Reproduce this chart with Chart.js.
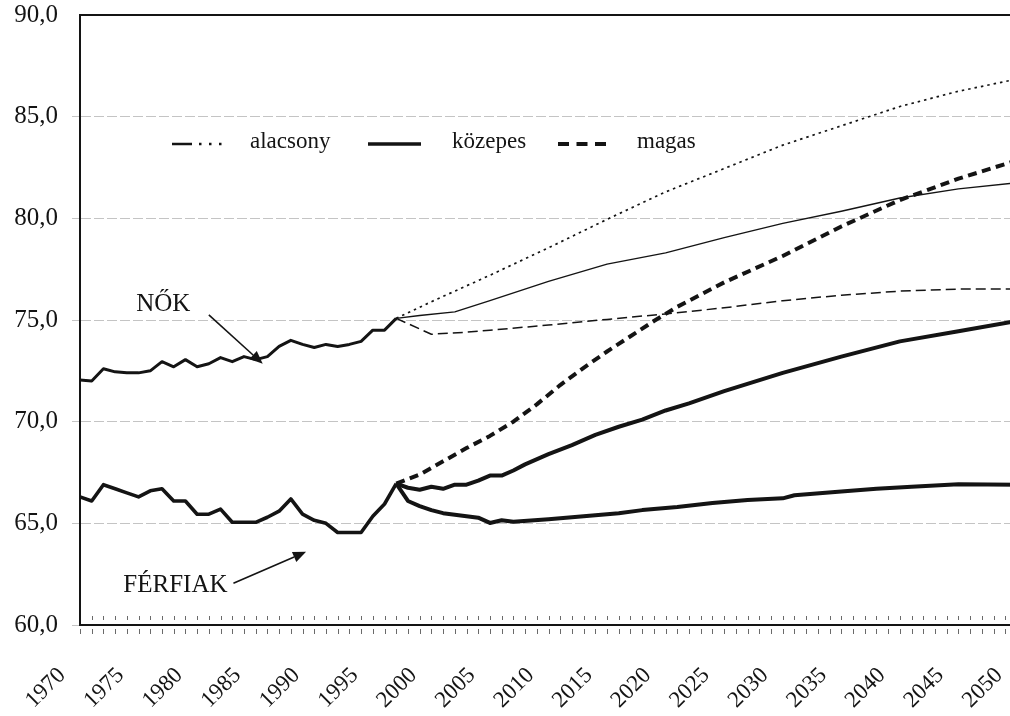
<!DOCTYPE html>
<html>
<head>
<meta charset="utf-8">
<script src="https://cdn.jsdelivr.net/npm/chart.js@4.4.1/dist/chart.umd.min.js"></script>
<style>
  html, body { margin: 0; padding: 0; background: #ffffff; overflow: hidden; }
  #wrap { position: relative; width: 1020px; height: 716px; }
</style>
</head>
<body>
<div id="wrap"><canvas id="c" width="1020" height="716"></canvas></div>
<script>
// ---------- DATA ----------
const histYears = [1970,1971,1972,1973,1974,1975,1976,1977,1978,1979,1980,1981,1982,1983,1984,1985,1986,1987,1988,1989,1990,1991,1992,1993,1994,1995,1996,1997];
const womenHist = [72.05,72.0,72.6,72.45,72.4,72.4,72.5,72.95,72.7,73.05,72.7,72.85,73.15,72.95,73.2,73.05,73.2,73.7,74.0,73.8,73.65,73.8,73.7,73.8,73.95,74.5,74.5,75.08];
const menHist   = [66.3,66.1,66.9,66.7,66.5,66.3,66.6,66.7,66.1,66.1,65.45,65.45,65.7,65.05,65.05,65.05,65.3,65.6,66.2,65.45,65.15,65.0,64.55,64.55,64.55,65.35,65.95,66.95];

// Women projections (NŐK)
const womenLowYears  = [1997,2000,2005,2010,2015,2020,2025,2030,2035,2040,2045,2050];
const womenLow       = [75.08,75.9,77.2,78.55,79.95,81.3,82.45,83.6,84.55,85.5,86.25,86.85];
const womenMidYears  = [1997,1999,2002,2005,2010,2015,2020,2025,2030,2035,2040,2045,2050];
const womenMid       = [75.08,75.22,75.4,75.95,76.9,77.75,78.3,79.05,79.75,80.35,81.0,81.45,81.75];
const womenHighYears = [1997,2000,2003,2005,2010,2015,2020,2025,2030,2035,2040,2045,2050];
const womenHigh      = [75.08,74.3,74.4,74.5,74.75,75.03,75.3,75.6,75.95,76.22,76.42,76.52,76.52];

// Men projections (FÉRFIAK)
const menLowYears  = [1997,1998,1999,2000,2001,2003,2004,2005,2006,2007,2010,2013,2016,2018,2021,2024,2027,2030,2031,2035,2038,2041,2045,2050];
const menLow       = [66.95,66.1,65.85,65.65,65.5,65.35,65.28,65.02,65.15,65.08,65.2,65.35,65.5,65.65,65.8,66.0,66.15,66.23,66.38,66.57,66.7,66.8,66.92,66.9];
const menMidYears  = [1997,1998,1999,2000,2001,2002,2003,2004,2005,2006,2007,2008,2010,2012,2014,2016,2018,2020,2022,2025,2030,2035,2040,2045,2050];
const menMid       = [66.95,66.75,66.65,66.8,66.7,66.9,66.9,67.1,67.35,67.35,67.6,67.9,68.4,68.85,69.35,69.75,70.1,70.55,70.9,71.5,72.4,73.2,73.95,74.45,74.95];
const menHighYears = [1997,1999,2001,2003,2005,2007,2009,2011,2013,2015,2017,2019,2021,2023,2025,2030,2035,2040,2045,2050];
const menHigh      = [66.95,67.4,68.05,68.7,69.3,70.0,70.85,71.8,72.65,73.45,74.2,74.95,75.65,76.25,76.85,78.15,79.6,80.9,81.95,82.85];

// Axis ticks and labels
const xTickYears  = [1970,1975,1980,1985,1990,1995,2000,2005,2010,2015,2020,2025,2030,2035,2040,2045,2050];
const yTickValues = [60,65,70,75,80,85,90];
const legendLabels = ['alacsony','közepes','magas'];
const groupLabels  = ['NŐK','FÉRFIAK'];

// ---------- STYLE ----------
const FONT = "'Liberation Serif', 'DejaVu Serif', serif";
const INK = '#141414';
const GRID = '#c4c4c4';

function pts(xs, ys) { return xs.map((x, i) => ({ x: x, y: ys[i] })); }
function line(data, width, dash) {
  return { data: data, borderColor: INK, backgroundColor: INK, borderWidth: width,
           borderDash: dash || [], pointRadius: 0, fill: false, tension: 0,
           borderJoinStyle: 'round', borderCapStyle: 'butt' };
}

const datasets = [
  line(pts(histYears, womenHist), 3),
  line(pts(histYears, menHist), 3.6),
  line(pts(womenLowYears, womenLow), 1.7, [2.5, 4]),
  line(pts(womenMidYears, womenMid), 1.4),
  line(pts(womenHighYears, womenHigh), 1.5, [10, 5]),
  line(pts(menLowYears, menLow), 4),
  line(pts(menMidYears, menMid), 4),
  line(pts(menHighYears, menHigh), 4, [9, 5.5])
];

// legend sample styles (layout relative to the chart area)
const legendStyle = [
  { dash: [20, 7, 2.5, 7.5, 2.5, 7.5, 2.5, 300], width: 2.5, x0: 92,  x1: 143, tx: 170 },
  { dash: [],                                   width: 3.5, x0: 288, x1: 341, tx: 372 },
  { dash: [11, 7.5],                             width: 4,   x0: 478, x1: 528, tx: 557 }
];
// annotation anchors in data coordinates
const annot = [
  { text: groupLabels[0], x: 1974.8, y: 75.45, from: [1981.0, 75.25], to: [1985.6, 72.85] },
  { text: groupLabels[1], x: 1973.7, y: 61.6,  from: [1983.1, 62.05], to: [1989.3, 63.6] }
];

function arrow(ctx, x1, y1, x2, y2, headLen, headW, lw) {
  const a = Math.atan2(y2 - y1, x2 - x1);
  const bx = x2 - headLen * Math.cos(a), by = y2 - headLen * Math.sin(a);
  ctx.lineWidth = lw;
  ctx.beginPath(); ctx.moveTo(x1, y1); ctx.lineTo(bx, by); ctx.stroke();
  ctx.beginPath(); ctx.moveTo(x2, y2);
  ctx.lineTo(bx + headW / 2 * Math.sin(a), by - headW / 2 * Math.cos(a));
  ctx.lineTo(bx - headW / 2 * Math.sin(a), by + headW / 2 * Math.cos(a));
  ctx.closePath(); ctx.fill();
}

const decor = {
  id: 'decor',
  afterDraw(chart) {
    const { ctx, chartArea: a, scales: { x, y } } = chart;
    ctx.save();
    // top frame line
    ctx.strokeStyle = INK; ctx.lineWidth = 2;
    ctx.beginPath(); ctx.moveTo(a.left - 1, a.top); ctx.lineTo(a.right, a.top); ctx.stroke();
    // yearly minor ticks above and below the axis
    ctx.strokeStyle = '#6a6a6a'; ctx.lineWidth = 1;
    for (let yr = x.min; yr <= x.max; yr++) {
      const px = Math.round(x.getPixelForValue(yr)) + 0.5;
      ctx.beginPath();
      if (yr > x.min) { ctx.moveTo(px, a.bottom - 9); ctx.lineTo(px, a.bottom - 5); }
      ctx.moveTo(px, a.bottom + 4); ctx.lineTo(px, a.bottom + 9);
      ctx.stroke();
    }
    // legend
    ctx.fillStyle = INK; ctx.strokeStyle = INK;
    ctx.font = '23px ' + FONT; ctx.textBaseline = 'alphabetic'; ctx.textAlign = 'left';
    const ly = a.top + 129;
    legendLabels.forEach((lab, i) => {
      const s = legendStyle[i];
      ctx.save();
      ctx.lineWidth = s.width; ctx.setLineDash(s.dash); ctx.lineCap = 'butt';
      ctx.beginPath(); ctx.moveTo(a.left + s.x0, ly); ctx.lineTo(a.left + s.x1, ly); ctx.stroke();
      ctx.restore();
      ctx.fillText(lab, a.left + s.tx, a.top + 133);
    });
    // group annotations with arrows
    ctx.font = '25px ' + FONT;
    annot.forEach(n => {
      ctx.fillText(n.text, x.getPixelForValue(n.x), y.getPixelForValue(n.y));
      arrow(ctx, x.getPixelForValue(n.from[0]), y.getPixelForValue(n.from[1]),
                 x.getPixelForValue(n.to[0]), y.getPixelForValue(n.to[1]), 13, 11, 1.6);
    });
    ctx.restore();
  }
};

new Chart(document.getElementById('c'), {
  type: 'line',
  data: { datasets: datasets },
  options: {
    responsive: false,
    animation: false,
    events: [],
    layout: { padding: { top: 15, right: 3, left: 0, bottom: 0 } },
    plugins: { legend: { display: false }, tooltip: { enabled: false } },
    scales: {
      x: {
        type: 'linear', min: 1970, max: 2050,
        grid: { display: false, drawTicks: false },
        border: { display: true, color: INK, width: 2 },
        ticks: {
          autoSkip: false, minRotation: 45, maxRotation: 45,
          labelOffset: -18, padding: 37, color: INK,
          font: { family: FONT, size: 23 },
          callback: v => String(v)
        },
        afterBuildTicks: s => { s.ticks = xTickYears.map(v => ({ value: v })); },
        afterFit: s => { s.height = 91; s.paddingLeft = 0; s.paddingRight = 0; s.paddingTop = 0; s.paddingBottom = 0; }
      },
      y: {
        type: 'linear', min: 60, max: 90,
        grid: {
          color: c => (c.tick && (c.tick.value === 60 || c.tick.value === 90)) ? 'rgba(0,0,0,0)' : GRID,
          lineWidth: 1, drawTicks: true, tickLength: 8,
          tickColor: c => (c.tick && c.tick.value === 90) ? 'rgba(0,0,0,0)' : GRID,
          tickBorderDash: [10, 3]
        },
        border: { display: true, color: INK, width: 2, dash: [10, 3] },
        ticks: {
          padding: 14, color: INK,
          font: { family: FONT, size: 25, lineHeight: 1 },
          callback: v => Number(v).toFixed(1).replace('.', ',')
        },
        afterBuildTicks: s => { s.ticks = yTickValues.map(v => ({ value: v })); },
        afterFit: s => { s.width = 80; s.paddingTop = 0; s.paddingBottom = 0; s.paddingLeft = 0; s.paddingRight = 0; }
      }
    }
  },
  plugins: [decor]
});
</script>
</body>
</html>
